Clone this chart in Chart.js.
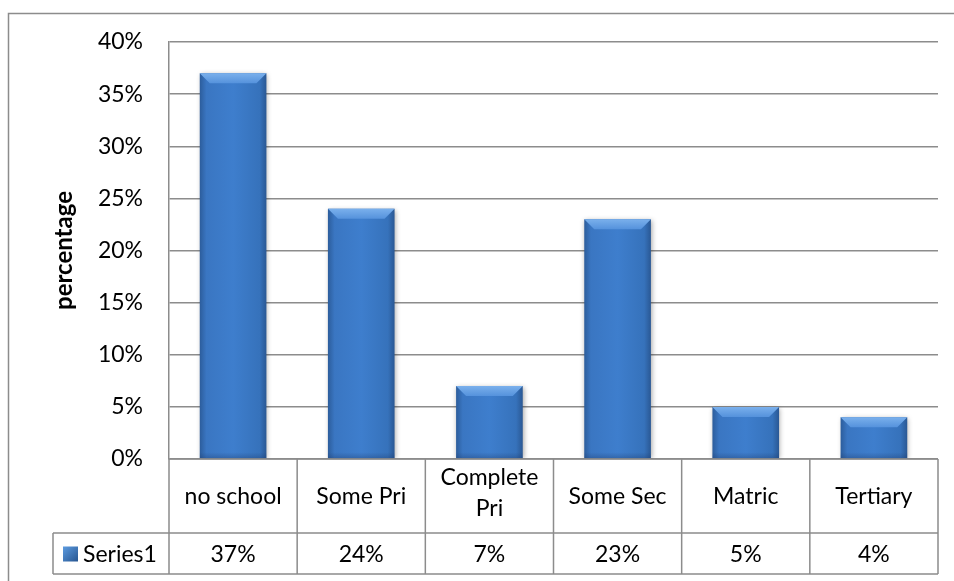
<!DOCTYPE html>
<html>
<head>
<meta charset="utf-8">
<script src="https://cdn.jsdelivr.net/npm/chart.js@4/dist/chart.umd.min.js"></script>
<style>
  html, body { margin: 0; padding: 0; background: #fff; }
  #wrap { width: 954px; height: 581px; }
</style>
</head>
<body>
<div id="wrap"><canvas id="edu" width="954" height="581"></canvas></div>
<script>
// education level shares (percent)
const categories = ['no school', 'Some Pri', ['Complete', 'Pri'], 'Some Sec', 'Matric', 'Tertiary'];
const seriesName = 'Series1';
const values = [37, 24, 7, 23, 5, 4];
const yMin = 0;
const yMax = 40;
const yStep = 5;
const yTitle = 'percentage';

const FONT = 'Lato, "Open Sans", sans-serif';
const LINE = '#8c8c8c';
const BAR_PCT = 0.52;

// horizontal gradient for each bar so the edges look rounded
const barFill = (ctx) => {
  const chart = ctx.chart;
  const xs = chart.scales.x;
  if (!chart.chartArea || !xs || ctx.dataIndex === undefined) return '#3a78c4';
  const cx = xs.getPixelForValue(ctx.dataIndex);
  const w = (xs.getPixelForValue(1) - xs.getPixelForValue(0)) * BAR_PCT;
  const g = chart.ctx.createLinearGradient(cx - w / 2, 0, cx + w / 2, 0);
  g.addColorStop(0, '#2c5d9c');
  g.addColorStop(0.1, '#3a76c2');
  g.addColorStop(0.5, '#3e7ecd');
  g.addColorStop(0.9, '#3672bb');
  g.addColorStop(1, '#2a5894');
  return g;
};

// white background plus the outer frame
const framePlugin = {
  id: 'frame',
  beforeDraw(chart) {
    const c = chart.ctx;
    c.save();
    c.fillStyle = '#fff';
    c.fillRect(0, 0, chart.width, chart.height);
    c.strokeStyle = LINE;
    c.lineWidth = 1.5;
    c.strokeRect(8.5, 13.5, chart.width + 10, chart.height + 10);
    c.restore();
  }
};

// soft drop shadow under the bars
const shadowPlugin = {
  id: 'barShadow',
  beforeDatasetDraw(chart) {
    const c = chart.ctx;
    c.save();
    c.shadowColor = 'rgba(0,0,0,0.35)';
    c.shadowBlur = 5;
    c.shadowOffsetX = 1;
    c.shadowOffsetY = 1;
  },
  afterDatasetDraw(chart) {
    chart.ctx.restore();
  }
};

// lighter bevel on the top of each bar, darker band at the foot
const bevelPlugin = {
  id: 'bevel',
  afterDatasetsDraw(chart) {
    const c = chart.ctx;
    const meta = chart.getDatasetMeta(0);
    c.save();
    meta.data.forEach((bar) => {
      const { x, y, width, base } = bar.getProps(['x', 'y', 'width', 'base'], true);
      const l = x - width / 2, r = x + width / 2, b = 10;
      const g = c.createLinearGradient(0, y, 0, y + b);
      g.addColorStop(0, '#7ab0ec');
      g.addColorStop(1, '#5592dc');
      c.fillStyle = g;
      c.beginPath();
      c.moveTo(l, y);
      c.lineTo(r, y);
      c.lineTo(r - b, y + b);
      c.lineTo(l + b, y + b);
      c.closePath();
      c.fill();
      const fg = c.createLinearGradient(0, base - 6, 0, base);
      fg.addColorStop(0, 'rgba(30,60,110,0)');
      fg.addColorStop(1, 'rgba(30,60,110,0.35)');
      c.fillStyle = fg;
      c.fillRect(l, base - 6, width, 6);
    });
    c.restore();
  }
};

// data table under the plot: category row + value row with legend key
const tablePlugin = {
  id: 'dataTable',
  afterDraw(chart) {
    const c = chart.ctx;
    const xs = chart.scales.x;
    const area = chart.chartArea;
    const colW = xs.getPixelForValue(1) - xs.getPixelForValue(0);
    const left = area.left, right = area.right;
    const top = area.bottom, mid = top + 74, bottom = mid + 41;
    const keyLeft = 53;

    c.save();
    c.strokeStyle = LINE;
    c.lineWidth = 1.5;
    c.beginPath();
    // horizontals
    c.moveTo(left, top); c.lineTo(right, top);
    c.moveTo(keyLeft, mid); c.lineTo(right, mid);
    c.moveTo(keyLeft, bottom); c.lineTo(right, bottom);
    // verticals
    c.moveTo(keyLeft, mid); c.lineTo(keyLeft, bottom);
    for (let i = 0; i <= categories.length; i++) {
      const vx = left + i * colW;
      c.moveTo(vx, top); c.lineTo(vx, bottom);
    }
    c.stroke();

    c.fillStyle = '#000';
    c.font = '23px ' + FONT;
    c.textAlign = 'center';
    c.textBaseline = 'middle';
    categories.forEach((cat, i) => {
      const cx = xs.getPixelForValue(i);
      const lines = Array.isArray(cat) ? cat : [cat];
      const lh = 31;
      const y0 = (top + mid) / 2 + 1 - (lines.length - 1) * (lh / 2 + 4);
      lines.forEach((t, k) => c.fillText(t, cx, y0 + k * lh));
      c.fillText(values[i] + '%', cx, (mid + bottom) / 2 + 1);
    });

    // legend key
    const ky = (mid + bottom) / 2;
    const kg = c.createLinearGradient(63, ky - 7, 77, ky + 7);
    kg.addColorStop(0, '#5c9be0');
    kg.addColorStop(1, '#2a5a96');
    c.fillStyle = kg;
    c.fillRect(63, ky - 7, 15, 15);
    c.fillStyle = '#000';
    c.textAlign = 'left';
    c.fillText(seriesName, 83, ky + 1);
    c.restore();
  }
};

new Chart(document.getElementById('edu'), {
  type: 'bar',
  data: {
    labels: categories,
    datasets: [{
      label: seriesName,
      data: values,
      backgroundColor: barFill,
      borderWidth: 0,
      categoryPercentage: 1,
      barPercentage: BAR_PCT
    }]
  },
  options: {
    responsive: false,
    animation: false,
    layout: { padding: { left: 0, top: 42, right: 16, bottom: 122 } },
    plugins: {
      legend: { display: false },
      tooltip: { enabled: false }
    },
    scales: {
      x: { display: false },
      y: {
        min: yMin,
        max: yMax,
        afterFit(scale) { scale.width = 169; },
        ticks: {
          stepSize: yStep,
          padding: 26,
          color: '#000',
          font: { family: FONT, size: 23 },
          callback: (v) => v + '%'
        },
        grid: { color: LINE, lineWidth: 1.5, drawTicks: false },
        border: { color: LINE, width: 1.5 },
        title: {
          display: true,
          text: yTitle,
          color: '#000',
          font: { family: FONT, size: 24, weight: 'bold' },
          padding: { top: 50, bottom: 0 }
        }
      }
    }
  },
  plugins: [framePlugin, shadowPlugin, bevelPlugin, tablePlugin]
});
</script>
</body>
</html>
